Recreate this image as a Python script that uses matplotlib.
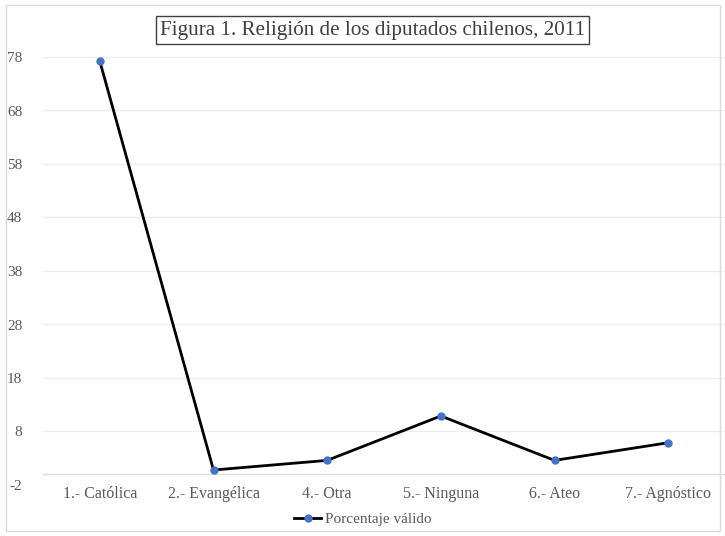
import matplotlib.pyplot as plt
from matplotlib.patches import Rectangle

categorias = ['1.- Católica', '2.- Evangélica', '4.- Otra', '5.- Ninguna', '6.- Ateo', '7.- Agnóstico']
porcentaje = [77.2, 0.8, 2.6, 10.9, 2.6, 5.9]
yticks = [-2, 8, 18, 28, 38, 48, 58, 68, 78]

plt.rcParams['font.family'] = ['Liberation Serif', 'DejaVu Serif']
plt.rcParams['axes.unicode_minus'] = False

fig = plt.figure(figsize=(7.25, 5.36), dpi=100)
ax = fig.add_axes([43 / 725, 1 - 485 / 536, 682 / 725, 428 / 536])

x = range(len(categorias))
ax.plot(x, porcentaje, '-', color='black', linewidth=2, marker='o',
        markersize=5, markerfacecolor='#4472C4', markeredgecolor='#4472C4',
        label='Porcentaje válido')

ax.set_xlim(-0.5, len(categorias) - 0.5)
ax.set_ylim(-2, 78)
ax.set_yticks(yticks)
ax.set_xticks(list(x))
ax.set_xticklabels(categorias)
ax.grid(axis='y', color='#ededed', linewidth=1)
ax.axhline(0, color='#dcdcdc', linewidth=1, zorder=1)
ax.set_axisbelow(True)
for s in ax.spines.values():
    s.set_visible(False)
ax.tick_params(length=0, labelsize=11.5, colors='#595959')
ax.tick_params(axis='x', pad=1)
ax.tick_params(axis='y', pad=15)
for t in ax.get_yticklabels():
    t.set_fontsize(11)

fig.text(372.5 / 725, 1 - 30 / 536, 'Figura 1. Religión de los diputados chilenos, 2011',
         ha='center', va='center', fontsize=15.2, color='#404040',
         bbox=dict(boxstyle='square,pad=0.2', facecolor='white', edgecolor='#404040', linewidth=1))

leg = fig.legend(loc='center', bbox_to_anchor=(0.5, 1 - 519 / 536), frameon=False,
                 fontsize=11, handlelength=1.8, handletextpad=0.2)
for t in leg.get_texts():
    t.set_color('#595959')

fig.patches.append(Rectangle((6 / 725, 5 / 536), 714 / 725, 526 / 536, transform=fig.transFigure,
                             fill=False, edgecolor='#d9d9d9', linewidth=1))

plt.savefig('out.png', dpi=100)
